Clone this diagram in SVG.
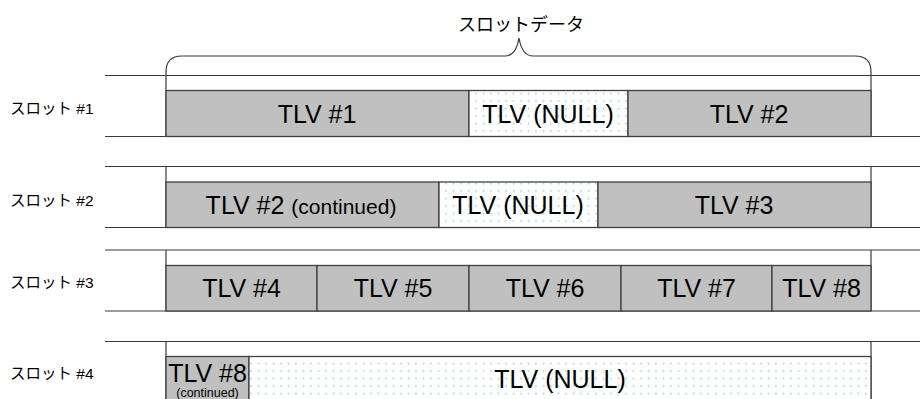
<svg xmlns="http://www.w3.org/2000/svg" width="920" height="399" viewBox="0 0 920 399">
<defs>
<pattern id="dots" width="7.5" height="7.5" patternUnits="userSpaceOnUse">
<rect width="7.5" height="7.5" fill="#ffffff"/>
<circle cx="3.5" cy="3.5" r="0.9" fill="#9fd0da"/>
</pattern>
</defs>
<style>
text{font-family:"Liberation Sans","Noto Sans CJK JP",sans-serif;fill:#000}
.lbl{font-size:15.5px}
.ttl{font-size:18px}
.t{font-size:25px;text-anchor:middle}
.sm{font-size:21px}
.tiny{font-size:12.5px;text-anchor:middle}
.full{fill:#c0c0c0;stroke:#404040;stroke-width:1.3}
.null{fill:url(#dots);stroke:#404040;stroke-width:1.3}
.rule{stroke:#3a3a3a;stroke-width:1.2;fill:none}
.frame{stroke:#3a3a3a;stroke-width:1.2;fill:none}
.brace{stroke:#3a3a3a;stroke-width:1.2;fill:none}
</style>
<rect width="920" height="399" fill="#ffffff"/>

<g id="title">
<text class="ttl" x="521" y="31" text-anchor="middle">スロットデータ</text>
</g>

<g id="connectors">
<path class="brace" d="M166,76 V72 Q166,56 182,56 H505 Q516,56 519,38 Q522,56 533,56 H855 Q871,56 871,72 V76"/>
<line class="rule" x1="105" y1="75.5" x2="920" y2="75.5"/>
<line class="rule" x1="105" y1="136.5" x2="920" y2="136.5"/>
<line class="rule" x1="105" y1="166.5" x2="920" y2="166.5"/>
<line class="rule" x1="105" y1="227.5" x2="920" y2="227.5"/>
<line class="rule" x1="105" y1="250" x2="920" y2="250"/>
<line class="rule" x1="105" y1="311" x2="920" y2="311"/>
<line class="rule" x1="105" y1="341.5" x2="920" y2="341.5"/>
<line class="frame" x1="166" y1="75.5" x2="166" y2="136.5"/>
<line class="frame" x1="871" y1="75.5" x2="871" y2="136.5"/>
<line class="frame" x1="166" y1="166.5" x2="166" y2="227.5"/>
<line class="frame" x1="871" y1="166.5" x2="871" y2="227.5"/>
<line class="frame" x1="166" y1="250" x2="166" y2="311"/>
<line class="frame" x1="871" y1="250" x2="871" y2="311"/>
<line class="frame" x1="166" y1="341.5" x2="166" y2="399"/>
<line class="frame" x1="871" y1="341.5" x2="871" y2="399"/>
</g>

<g id="slot1">
<text class="lbl" x="10" y="114">スロット #1</text>
<g id="s1-tlv1"><rect class="full" x="166" y="90.5" width="303" height="46"/><text class="t" x="317" y="123">TLV #1</text></g>
<g id="s1-null"><rect class="null" x="469" y="90.5" width="159" height="46"/><text class="t" x="548" y="123">TLV (NULL)</text></g>
<g id="s1-tlv2"><rect class="full" x="628" y="90.5" width="243" height="46"/><text class="t" x="749" y="123">TLV #2</text></g>
</g>

<g id="slot2">
<text class="lbl" x="10" y="206">スロット #2</text>
<g id="s2-tlv2"><rect class="full" x="166" y="182" width="273" height="45.5"/><text class="t" x="301" y="214">TLV #2 <tspan class="sm">(continued)</tspan></text></g>
<g id="s2-null"><rect class="null" x="439" y="182" width="159" height="45.5"/><text class="t" x="518" y="214">TLV (NULL)</text></g>
<g id="s2-tlv3"><rect class="full" x="598" y="182" width="273" height="45.5"/><text class="t" x="734" y="214">TLV #3</text></g>
</g>

<g id="slot3">
<text class="lbl" x="10" y="288">スロット #3</text>
<g id="s3-tlv4"><rect class="full" x="166" y="265.5" width="151" height="45.5"/><text class="t" x="241.5" y="297">TLV #4</text></g>
<g id="s3-tlv5"><rect class="full" x="317" y="265.5" width="152" height="45.5"/><text class="t" x="393" y="297">TLV #5</text></g>
<g id="s3-tlv6"><rect class="full" x="469" y="265.5" width="152" height="45.5"/><text class="t" x="545" y="297">TLV #6</text></g>
<g id="s3-tlv7"><rect class="full" x="621" y="265.5" width="151" height="45.5"/><text class="t" x="696.5" y="297">TLV #7</text></g>
<g id="s3-tlv8"><rect class="full" x="772" y="265.5" width="99" height="45.5"/><text class="t" x="821.5" y="297">TLV #8</text></g>
</g>

<g id="slot4">
<text class="lbl" x="10" y="379">スロット #4</text>
<g id="s4-tlv8"><rect class="full" x="166" y="356.5" width="83" height="46"/><text class="t" x="207.5" y="382">TLV #8</text><text class="tiny" x="207.5" y="396.5">(continued)</text></g>
<g id="s4-null"><rect class="null" x="249" y="356.5" width="622" height="46"/><text class="t" x="560" y="388">TLV (NULL)</text></g>
</g>
</svg>
